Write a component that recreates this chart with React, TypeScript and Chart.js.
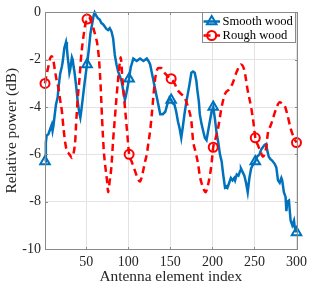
import React, { useEffect, useRef } from 'react';
import { Chart, registerables } from 'chart.js';

Chart.register(...registerables);

const seriesNames = ['Smooth wood', 'Rough wood'];
const markerIndices = [1, 51, 101, 151, 201, 251, 300];
const xTickValues = [50, 100, 150, 200, 250, 300];
const yTickValues = [0, -2, -4, -6, -8, -10];

const smoothX = [1, 2, 3, 5, 7, 9, 10, 11, 12, 14, 16, 17, 19, 21, 22, 24, 26, 27, 28, 29, 30, 31, 33, 34, 35, 36, 38, 40, 42, 43, 44, 46, 48, 50, 51, 53, 55, 57, 59, 60, 62, 64, 66, 68, 70, 72, 74, 76, 78, 80, 82, 84, 86, 88, 90, 92, 94, 96, 97, 99, 101, 103, 104, 106, 108, 110, 112, 114, 116, 118, 120, 122, 124, 126, 128, 130, 132, 134, 136, 138, 141, 144, 147, 149, 151, 153, 155, 157, 159, 161, 163, 165, 167, 169, 171, 173, 175, 177, 179, 181, 182, 184, 185, 187, 189, 191, 193, 195, 197, 199, 201, 203, 205, 207, 209, 211, 213, 215, 217, 218, 220, 222, 224, 226, 227, 229, 231, 233, 234, 236, 238, 240, 242, 244, 246, 248, 251, 253, 256, 258, 260, 262, 264, 265, 267, 269, 271, 274, 276, 278, 280, 282, 283, 285, 287, 288, 289, 291, 293, 295, 297, 298, 300];
const smoothY = [-6.3, -5.5, -5.2, -5.15, -4.95, -4.75, -5.0, -4.8, -4.5, -3.9, -3.6, -3.2, -2.6, -2.3, -2.1, -1.5, -1.25, -1.5, -1.9, -2.2, -2.55, -2.4, -1.9, -2.0, -2.3, -2.5, -3.1, -3.8, -4.3, -4.45, -4.2, -3.6, -3.0, -2.45, -2.2, -1.6, -0.9, -0.5, -0.1, 0.0, -0.15, -0.25, -0.3, -0.45, -0.5, -0.6, -0.7, -0.75, -0.67, -0.8, -1.1, -1.8, -2.2, -2.5, -2.7, -2.9, -3.3, -3.7, -3.55, -3.2, -2.8, -2.3, -2.2, -1.95, -2.0, -2.05, -2.0, -1.95, -2.0, -2.05, -2.0, -1.95, -2.05, -2.2, -2.55, -2.9, -3.25, -3.6, -3.95, -4.3, -4.3, -4.2, -3.8, -3.6, -3.7, -3.85, -3.9, -4.2, -4.6, -4.9, -5.3, -4.8, -4.25, -3.8, -3.4, -3.0, -2.55, -2.5, -2.55, -2.9, -3.25, -3.8, -4.3, -4.7, -5.0, -5.3, -5.4, -5.0, -4.6, -4.2, -4.0, -4.5, -5.1, -5.5, -6.0, -6.3, -6.9, -7.4, -7.35, -7.4, -7.2, -7.0, -7.1, -7.0, -7.1, -6.85, -6.9, -6.7, -6.6, -6.75, -6.9, -7.2, -7.6, -7.0, -6.6, -6.45, -6.3, -6.1, -6.0, -5.8, -5.7, -5.6, -5.56, -5.8, -6.1, -6.2, -6.26, -6.4, -6.55, -7.1, -7.2, -7.0, -7.1, -7.6, -7.8, -8.4, -8.0, -7.95, -8.8, -9.0, -8.8, -9.1, -9.3];

const roughX = [1, 3, 5, 7, 9, 11, 13, 15, 17, 19, 21, 23, 25, 27, 29, 31, 33, 35, 37, 38, 40, 42, 44, 47, 49, 51, 53, 56, 58, 61, 63, 65, 66, 67, 68, 69, 70, 71, 73, 75, 76, 78, 80, 82, 84, 86, 88, 90, 91, 93, 95, 97, 99, 101, 104, 108, 111, 114, 117, 120, 122, 124, 126, 128, 130, 132, 134, 136, 139, 143, 147, 151, 155, 159, 163, 167, 171, 175, 177, 180, 183, 185, 187, 190, 192, 194, 197, 199, 201, 204, 207, 211, 215, 220, 224, 229, 234, 238, 242, 246, 249, 251, 254, 257, 260, 262, 264, 266, 268, 271, 276, 280, 283, 286, 289, 293, 297, 300];
const roughY = [-3.0, -2.6, -2.3, -1.95, -1.85, -2.05, -2.5, -2.9, -3.2, -3.7, -4.15, -4.9, -5.5, -5.85, -5.95, -6.05, -6.15, -5.95, -5.4, -4.7, -3.6, -2.8, -1.85, -0.95, -0.5, -0.28, -0.2, -0.4, -0.6, -1.0, -1.3, -1.9, -2.4, -3.0, -3.8, -4.6, -5.3, -5.9, -6.6, -7.2, -7.6, -7.1, -6.5, -5.4, -4.5, -3.6, -2.8, -2.1, -1.9, -2.8, -3.6, -4.4, -5.2, -6.0, -6.3, -6.7, -7.0, -7.15, -6.8, -6.3, -6.0, -5.5, -5.0, -4.3, -3.5, -2.8, -2.45, -2.35, -2.35, -2.55, -2.7, -2.8, -3.0, -3.3, -3.45, -3.6, -4.0, -4.6, -5.4, -5.9, -6.4, -6.9, -7.2, -7.5, -7.6, -7.4, -6.9, -6.4, -5.7, -5.3, -4.85, -4.0, -3.45, -3.25, -3.0, -2.5, -2.2, -2.45, -3.3, -4.0, -4.7, -5.3, -5.6, -5.85, -6.1, -6.0, -5.7, -5.1, -4.9, -4.6, -4.05, -3.8, -3.85, -3.95, -4.3, -4.9, -5.3, -5.5];

const BLUE = '#0072BD';
const RED = '#FF0000';
const AXIS = '#8a8a8a';
const TEXT = '#262626';
const SERIF = '"Liberation Serif", "Times New Roman", serif';

function pts(xs: number[], ys: number[]) {
  return xs.map((x, i) => ({ x, y: ys[i] }));
}

function drawTriangle(ctx: CanvasRenderingContext2D, x: number, y: number, r: number) {
  ctx.beginPath();
  for (let k = 0; k < 3; k++) {
    const a = (k * 2 * Math.PI) / 3;
    const px = x + Math.sin(a) * r;
    const py = y - Math.cos(a) * r;
    if (k === 0) ctx.moveTo(px, py);
    else ctx.lineTo(px, py);
  }
  ctx.closePath();
  ctx.stroke();
}

const boxPlugin = {
  id: 'matlabBox',
  afterDatasetsDraw(chart: any) {
    const { ctx, chartArea: a, scales } = chart;
    ctx.save();
    ctx.strokeStyle = AXIS;
    ctx.lineWidth = 1;
    ctx.setLineDash([]);
    const L = Math.round(a.left) + 0.5;
    const R = Math.round(a.right) + 0.5;
    const T = Math.round(a.top) + 0.5;
    const B = Math.round(a.bottom) + 0.5;
    ctx.strokeRect(L, T, R - L, B - T);
    const tl = 2.5;
    ctx.beginPath();
    xTickValues.forEach((v) => {
      const px = Math.round(scales.x.getPixelForValue(v)) + 0.5;
      ctx.moveTo(px, B);
      ctx.lineTo(px, B - tl);
      ctx.moveTo(px, T);
      ctx.lineTo(px, T + tl);
    });
    yTickValues.forEach((v) => {
      const py = Math.round(scales.y.getPixelForValue(v)) + 0.5;
      ctx.moveTo(L, py);
      ctx.lineTo(L + tl, py);
      ctx.moveTo(R, py);
      ctx.lineTo(R - tl, py);
    });
    ctx.stroke();
    ctx.restore();
  },
};

const legendPlugin = {
  id: 'matlabLegend',
  afterDraw(chart: any) {
    const { ctx } = chart;
    const lx = 202, ly = 12, lw = 94, lh = 31;
    ctx.save();
    ctx.fillStyle = '#ffffff';
    ctx.fillRect(lx, ly, lw, lh);
    ctx.strokeStyle = AXIS;
    ctx.lineWidth = 1;
    ctx.strokeRect(lx + 0.5, ly + 0.5, lw - 1, lh - 1);
    const rows = [21.5, 35.5];
    chart.data.datasets.forEach((ds: any, i: number) => {
      const y = rows[i];
      ctx.strokeStyle = ds.borderColor;
      ctx.lineWidth = ds.borderWidth;
      ctx.setLineDash(ds.borderDash || []);
      ctx.beginPath();
      ctx.moveTo(203.5, y);
      ctx.lineTo(220, y);
      ctx.stroke();
      ctx.setLineDash([]);
      ctx.lineWidth = ds.pointBorderWidth;
      const cx = 211.7;
      if (ds.pointStyle === 'triangle') {
        drawTriangle(ctx, cx, y, ds.markerRadius);
      } else {
        ctx.beginPath();
        ctx.arc(cx, y, ds.markerRadius, 0, Math.PI * 2);
        ctx.stroke();
      }
      ctx.fillStyle = '#000000';
      ctx.font = `12.6px ${SERIF}`;
      ctx.textBaseline = 'middle';
      ctx.textAlign = 'left';
      ctx.fillText(ds.label, 222.5, y);
    });
    ctx.restore();
  },
};

export default function App() {
  const ref = useRef<HTMLCanvasElement | null>(null);
  useEffect(() => {
    if (!ref.current) return;
    const markerRadius = (r: number) => (c: any) =>
      c.raw && markerIndices.includes(c.raw.x) ? r : 0;
    const chart = new Chart(ref.current, {
      type: 'line',
      data: {
        datasets: [
          {
            label: seriesNames[0],
            data: pts(smoothX, smoothY),
            borderColor: BLUE,
            borderWidth: 2.5,
            tension: 0,
            pointStyle: 'triangle',
            pointRadius: markerRadius(5.5),
            pointHoverRadius: 0,
            pointBorderColor: BLUE,
            pointBackgroundColor: 'rgba(0,0,0,0)',
            pointBorderWidth: 2,
            markerRadius: 5.5,
            order: 1,
            clip: 12,
          } as any,
          {
            label: seriesNames[1],
            data: pts(roughX, roughY),
            borderColor: RED,
            borderWidth: 2.5,
            borderDash: [7, 4.5],
            cubicInterpolationMode: 'monotone',
            pointStyle: 'circle',
            pointRadius: markerRadius(4.5),
            pointHoverRadius: 0,
            pointBorderColor: RED,
            pointBackgroundColor: 'rgba(0,0,0,0)',
            pointBorderWidth: 2,
            markerRadius: 4.5,
            order: 0,
            clip: 12,
          } as any,
        ],
      },
      options: {
        responsive: false,
        animation: false,
        devicePixelRatio: 1,
        events: [],
        layout: { padding: { top: 11, right: 15, left: 0, bottom: 0 } },
        plugins: {
          legend: { display: false },
          tooltip: { enabled: false },
        },
        scales: {
          x: {
            type: 'linear',
            min: 1,
            max: 300,
            afterBuildTicks: (s: any) => {
              s.ticks = xTickValues.map((v) => ({ value: v }));
            },
            afterFit: (s: any) => {
              s.height = 40;
            },
            grid: { color: '#e3e3e3', lineWidth: 1, drawTicks: false },
            border: { display: false },
            ticks: {
              padding: 5,
              color: TEXT,
              font: { family: SERIF, size: 14 },
              maxRotation: 0,
              autoSkip: false,
              callback: (v: any) => String(v),
            },
            title: {
              display: true,
              text: 'Antenna element index',
              color: TEXT,
              font: { family: SERIF, size: 15.4 },
              padding: { top: 0, bottom: 3 },
            },
          },
          y: {
            type: 'linear',
            min: -10,
            max: 0,
            afterBuildTicks: (s: any) => {
              s.ticks = yTickValues.map((v) => ({ value: v }));
            },
            afterFit: (s: any) => {
              s.width = 45;
            },
            grid: { color: '#e3e3e3', lineWidth: 1, drawTicks: false },
            border: { display: false },
            ticks: {
              padding: 4,
              color: TEXT,
              font: { family: SERIF, size: 14 },
              autoSkip: false,
              callback: (v: any) => String(v),
            },
            title: {
              display: true,
              text: 'Relative power (dB)',
              color: TEXT,
              font: { family: SERIF, size: 15.4 },
              padding: { top: 3, bottom: 0 },
            },
          },
        },
      } as any,
      plugins: [boxPlugin, legendPlugin],
    });
    return () => chart.destroy();
  }, []);
  return (
    <div style={{ position: 'absolute', left: 0, top: 0, width: 312, height: 289, background: '#fff' }}>
      <canvas ref={ref} width={312} height={289} style={{ width: 312, height: 289, display: 'block' }} />
    </div>
  );
}
